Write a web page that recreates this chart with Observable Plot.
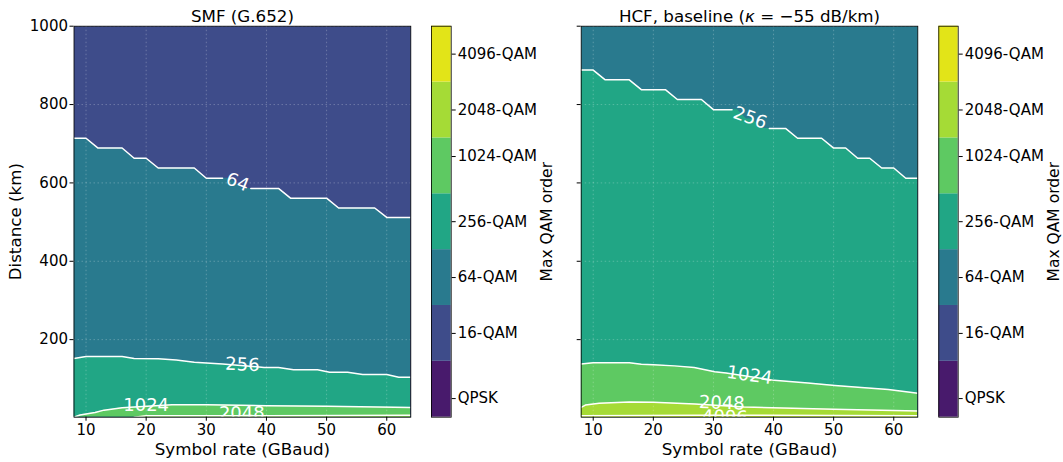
<!DOCTYPE html>
<html><head><meta charset="utf-8">
<script src="https://cdn.jsdelivr.net/npm/d3@7"></script>
<script src="https://cdn.jsdelivr.net/npm/@observablehq/plot@0.6"></script>
<style>
body{margin:0;background:#fff;}
#fig{position:relative;width:1063px;height:462px;overflow:hidden;background:#fff;}
#fig > div{position:absolute;top:0;}
</style></head><body><div id="fig"></div>
<script>
// ---- axes ----
const rateDomain = [8, 64];
const distDomain = [2, 1000];
const rateTicks = [10, 20, 30, 40, 50, 60];
const distTicks = [200, 400, 600, 800, 1000];

// ---- modulation orders (bits per symbol) and colour-bar levels ----
const levels = [1.5, 3, 5, 7, 9, 10.5, 11.5, 12.5];
const orderBits = [2, 4, 6, 8, 10, 11, 12];
const orderNames = ["QPSK", "16-QAM", "64-QAM", "256-QAM", "1024-QAM", "2048-QAM", "4096-QAM"];

// ---- SMF (G.652): contour boundaries (rate in GBaud, distance in km) ----
const smf64Rate   = [8, 10, 12, 16, 18, 20, 22, 28, 30, 32.7, 34, 36, 37.4, 42, 44, 50, 52, 58, 60, 64];
const smf64Dist   = [714, 714, 689, 689, 663, 663, 638, 638, 612, 612, 612, 586, 586, 586, 561, 561, 536, 536, 512, 512];
const smf256Rate  = [8, 10, 16, 18, 22, 25, 28, 32.7, 39.6, 42, 44.5, 48.5, 50.5, 53.5, 56, 60, 62, 64];
const smf256Dist  = [152, 157, 157, 152, 151, 148, 142, 138, 129, 129, 123, 123, 117, 117, 111, 111, 104, 104];
const smf1024Rate = [8, 9, 10.5, 11.5, 13, 14.5, 16, 24.3, 30, 40, 50, 64];
const smf1024Dist = [2, 7.5, 11.5, 14, 20, 23, 26, 34, 33.5, 31.5, 30, 27];
const smf2048Rate = [18, 20, 31.9, 40.2, 64];
const smf2048Dist = [2, 5.5, 5.5, 6, 7];
const smfLabelText  = ["64", "256", "1024", "2048"];
const smfLabelRate  = [35.2, 36.0, 20.0, 35.9];
const smfLabelDist  = [602, 136, 33, 12];
const smfLabelAngle = [22, 2, 0, 0];

// ---- HCF baseline ----
const hcf256Rate  = [8, 10, 12, 16, 18, 22, 24, 28, 30, 33.1, 34, 35.5, 36.5, 38, 39.3, 42, 44, 48, 50, 52, 54, 56, 58, 60, 62, 64];
const hcf256Dist  = [888, 888, 863, 863, 838, 838, 813, 813, 787, 787, 787, 763, 763, 739, 739, 739, 714, 714, 689, 689, 663, 663, 638, 638, 612, 612];
const hcf1024Rate = [8, 10, 16, 18, 20, 23.5, 26.8, 30.2, 32.1, 40.1, 45.7, 50.2, 54.6, 59.1, 64];
const hcf1024Dist = [138, 141, 141, 137, 136, 133, 129, 118, 115, 96, 89, 83, 78, 73, 63];
const hcf2048Rate = [8, 8.7, 11, 16, 20, 26.9, 35.1, 50, 64];
const hcf2048Dist = [27, 33, 37.5, 41, 40, 36, 28, 22, 18];
const hcf4096Rate = [8, 28, 35.6, 64];
const hcf4096Dist = [6, 7, 7, 6];
const hcfLabelText  = ["256", "1024", "2048", "4096"];
const hcfLabelRate  = [36.1, 36.0, 31.4, 31.9];
const hcfLabelDist  = [766, 109, 38, 2];
const hcfLabelAngle = [20, 8, 2, 2];

// ---- colours: viridis at the level-interval midpoints ----
const lo = levels[0], hi = levels[levels.length - 1];
const fillColors = orderBits.map((b, i) => d3.interpolateViridis(((levels[i] + levels[i + 1]) / 2 - lo) / (hi - lo)));
const colorOf = bits => fillColors[orderBits.indexOf(bits)];

const FONT = "DejaVu Sans, sans-serif";
const TOP = 25.7, BOTTOM = 416.7, H = 462;

function makePanel({title, background, bands, labels, showYLabels, width, marginLeft, marginRight}) {
  const marks = [Plot.frame({fill: colorOf(background)})];
  bands.forEach(b => {
    const pts = b.rate.map((x, i) => ({x, y: b.dist[i]}));
    marks.push(Plot.areaY(pts, {x: "x", y1: distDomain[0], y2: "y", fill: colorOf(b.bits), clip: true}));
  });
  marks.push(Plot.gridX({ticks: rateTicks, stroke: "white", strokeOpacity: 0.3, strokeDasharray: "1.5,2.5", strokeWidth: 0.8}));
  marks.push(Plot.gridY({ticks: distTicks, stroke: "white", strokeOpacity: 0.3, strokeDasharray: "1.5,2.5", strokeWidth: 0.8}));
  bands.forEach(b => {
    const pts = b.rate.map((x, i) => ({x, y: b.dist[i]}));
    const [g0, g1] = b.gap;
    marks.push(Plot.line(pts, {x: "x", y: d => (d.x > g0 && d.x < g1) ? NaN : d.y, stroke: "white", strokeWidth: 1.5, clip: true}));
  });
  const lbl = labels.text.map((t, i) => ({text: t, x: labels.rate[i], y: labels.dist[i], angle: labels.angle[i]}));
  marks.push(Plot.text(lbl, {x: "x", y: "y", text: "text", rotate: "angle", fill: "white", fontSize: 18, clip: true}));
  marks.push(Plot.frame({stroke: "black", strokeWidth: 0.8}));
  marks.push(Plot.axisX({ticks: rateTicks, tickSize: 4, tickPadding: 3, fontSize: 15, label: null, tickFormat: d => String(d)}));
  marks.push(Plot.axisY({ticks: distTicks, tickSize: 4, tickPadding: 2, fontSize: 15, label: null,
    tickFormat: showYLabels ? (d => String(d)) : (() => "")}));
  marks.push(Plot.text([title], {frameAnchor: "top", dy: -10, text: d => d, fontSize: 16.7, textAnchor: "middle", lineAnchor: "middle"}));
  marks.push(Plot.text(["Symbol rate (GBaud)"], {frameAnchor: "bottom", dy: 32, text: d => d, fontSize: 16.7, textAnchor: "middle", lineAnchor: "middle"}));
  if (showYLabels) marks.push(Plot.text(["Distance (km)"], {frameAnchor: "left", dx: -58, rotate: -90, text: d => d, fontSize: 16.7, textAnchor: "middle", lineAnchor: "middle"}));
  return Plot.plot({
    width, height: H, marginLeft, marginRight, marginTop: TOP, marginBottom: H - BOTTOM,
    x: {domain: rateDomain}, y: {domain: distDomain},
    style: {fontFamily: FONT, background: "transparent", color: "black", overflow: "visible"},
    marks
  });
}

// colour bar with uniformly spaced cells (one per modulation order)
function makeColorbar({width, marginLeft, barWidth}) {
  const n = orderBits.length;
  const tickPos = orderBits.map((b, i) => i + (b - levels[i]) / (levels[i + 1] - levels[i]));
  const marks = orderBits.map((b, i) => Plot.rect([i], {y1: d => d, y2: d => d + 1, fill: fillColors[i]}));
  marks.push(
    Plot.frame({stroke: "black", strokeWidth: 0.8}),
    Plot.axisY({anchor: "right", ticks: tickPos, tickFormat: (d, i) => orderNames[tickPos.indexOf(d)], tickSize: 4, tickPadding: 2.5, fontSize: 15, label: null}),
    Plot.text(["Max QAM order"], {frameAnchor: "right", dx: 96, rotate: -90, text: d => d, fontSize: 15.5, textAnchor: "middle", lineAnchor: "middle"})
  );
  return Plot.plot({
    width, height: H, marginLeft, marginRight: width - marginLeft - barWidth, marginTop: TOP, marginBottom: H - BOTTOM,
    y: {domain: [0, n]},
    style: {fontFamily: FONT, background: "transparent", color: "black", overflow: "visible"},
    marks
  });
}

const fig = document.getElementById("fig");
function place(el, left, width) {
  const d = document.createElement("div");
  d.style.left = left + "px";
  d.style.width = width + "px";
  d.appendChild(el);
  fig.appendChild(d);
}

place(makePanel({
  title: "SMF (G.652)", background: 4, showYLabels: true, width: 420, marginLeft: 73.5, marginRight: 9.7,
  bands: [
    {rate: smf64Rate, dist: smf64Dist, bits: 6, gap: [32.7, 37.4]},
    {rate: smf256Rate, dist: smf256Dist, bits: 8, gap: [32.7, 39.6]},
    {rate: smf1024Rate, dist: smf1024Dist, bits: 10, gap: [16, 24.3]},
    {rate: smf2048Rate, dist: smf2048Dist, bits: 11, gap: [31.9, 40.2]}
  ],
  labels: {text: smfLabelText, rate: smfLabelRate, dist: smfLabelDist, angle: smfLabelAngle}
}), 0, 420);

place(makeColorbar({width: 140, marginLeft: 11, barWidth: 19.7}), 420, 140);

const right = makePanel({
  title: "HCF, baseline (κ = −55 dB/km)", background: 6, showYLabels: false, width: 365, marginLeft: 20.7, marginRight: 7.7,
  bands: [
    {rate: hcf256Rate, dist: hcf256Dist, bits: 8, gap: [33.1, 39.3]},
    {rate: hcf1024Rate, dist: hcf1024Dist, bits: 10, gap: [32.1, 40.1]},
    {rate: hcf2048Rate, dist: hcf2048Dist, bits: 11, gap: [26.9, 35.1]},
    {rate: hcf4096Rate, dist: hcf4096Dist, bits: 12, gap: [28, 35.6]}
  ],
  labels: {text: hcfLabelText, rate: hcfLabelRate, dist: hcfLabelDist, angle: hcfLabelAngle}
});
right.querySelectorAll("text").forEach(t => {
  if (t.textContent.includes("κ") && t.children.length === 0) {
    const ns = "http://www.w3.org/2000/svg";
    t.textContent = "";
    [["HCF, baseline (", null], ["κ", "italic"], [" = −55 dB/km)", null]].forEach(([s, st]) => {
      const sp = document.createElementNS(ns, "tspan");
      sp.textContent = s;
      if (st) sp.setAttribute("font-style", st);
      t.appendChild(sp);
    });
  }
});
place(right, 560, 365);

place(makeColorbar({width: 138, marginLeft: 13.3, barWidth: 19.4}), 925, 138);
</script></body></html>
